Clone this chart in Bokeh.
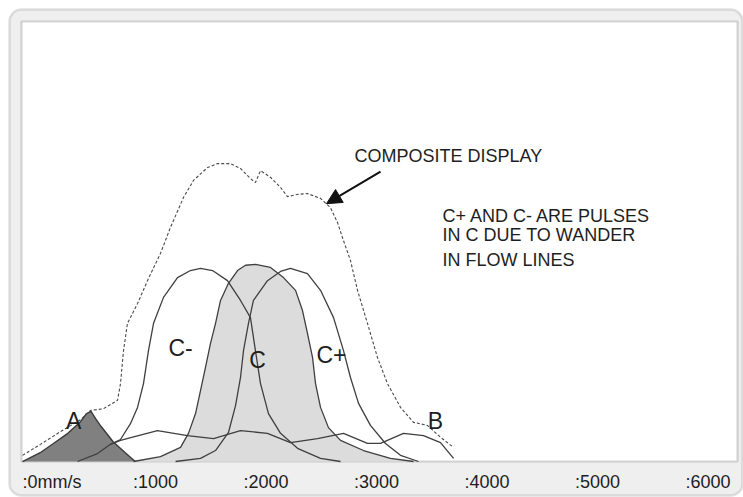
from bokeh.plotting import figure
from bokeh.models import Range1d, BoxAnnotation, Arrow, NormalHead
from bokeh.core.properties import value
from bokeh.embed import file_html
from bokeh.resources import INLINE

# ---------------- data (velocity in mm/s, amplitude in arbitrary units) ----------------
tick_values = [0, 1000, 2000, 3000, 4000, 5000, 6000]
tick_labels = [":0mm/s", ":1000", ":2000", ":3000", ":4000", ":5000", ":6000"]

# pulse A (dark filled)
a_x = [0, 160, 280, 410, 520, 580, 620, 660, 710, 820, 930, 1020]
a_y = [0, 2.0, 4.1, 6.4, 8.9, 10.9, 11.4, 9.8, 8.0, 4.5, 2.0, 0]

# pulse C (light filled)
c_x = [1005, 1249, 1430, 1502, 1566, 1611, 1656, 1701, 1747, 1792, 1864, 1946, 2018, 2109,
       2244, 2362, 2471, 2534, 2579, 2625, 2652, 2697, 2769, 2878, 3086, 3330, 3539]
c_y = [0, 1.1, 3.2, 6.4, 10.9, 16.1, 21.4, 26.8, 31.4, 36.6, 40.5, 43.4, 44.6, 44.8,
       44.1, 41.8, 38.9, 34.3, 29.1, 23.6, 17.7, 12.3, 7.7, 4.8, 2.5, 0.7, 0]

# pulse C- (outline)
cm_x = [498, 679, 796, 887, 977, 1041, 1095, 1140, 1186, 1276, 1403, 1520, 1611, 1720,
        1855, 1973, 2063, 2108, 2154, 2226, 2335, 2489, 2697, 2878]
cm_y = [0, 1.8, 3.9, 5.0, 8.6, 12.3, 17.7, 25.2, 31.4, 37.3, 41.8, 43.4, 43.9, 43.4,
        41.1, 36.6, 32.7, 25.2, 17.7, 10.9, 6.4, 3.0, 0.7, 0]

# pulse C+ (outline)
cp_x = [1385, 1611, 1747, 1864, 1928, 1973, 2000, 2045, 2090, 2217, 2335, 2425, 2579,
        2697, 2815, 2905, 2968, 3041, 3149, 3285, 3421, 3584]
cp_y = [0, 0.7, 2.5, 6.6, 12.7, 19.1, 25.2, 31.4, 36.6, 41.1, 43.2, 43.9, 42.7,
        38.9, 32.7, 25.2, 19.1, 13.2, 8.2, 4.1, 1.4, 0]

# low wandering signal with pulse B
b_x = [796, 887, 1023, 1222, 1493, 1729, 1973, 2217, 2425, 2670, 2905, 3122, 3240,
       3448, 3629, 3783, 3901]
b_y = [3.9, 4.8, 5.7, 7.0, 5.9, 5.2, 7.0, 6.4, 4.3, 5.2, 6.4, 4.1, 4.1,
       6.4, 5.9, 4.3, 0.7]

# composite display (dashed)
comp_x = [0, 163, 344, 525, 615, 733, 860, 887, 914, 950, 1041, 1131, 1249, 1339, 1457,
          1548, 1674, 1765, 1882, 1973, 2063, 2108, 2154, 2244, 2335, 2398, 2489, 2579,
          2697, 2787, 2851, 2905, 2968, 3032, 3122, 3213, 3303, 3421, 3539, 3665, 3783, 3901]
comp_y = [1.4, 3.9, 6.8, 9.5, 11.6, 12.0, 13.9, 17.7, 25.2, 31.4, 35.9, 41.1, 47.3, 53.2,
          60.0, 63.9, 66.8, 67.7, 67.7, 66.6, 64.3, 63.4, 66.1, 64.6, 62.3, 60.2, 60.7, 60.9,
          59.8, 57.7, 54.3, 50.2, 45.7, 38.9, 31.4, 23.6, 17.7, 12.3, 8.9, 8.2, 5.5, 3.2]

peak_names = ["A", "C-", "C", "C+", "B"]
note_lines = ["C+ AND C- ARE PULSES", "IN C DUE TO WANDER", "IN FLOW LINES"]
arrow_title = "COMPOSITE DISPLAY"

# ---------------- layout positions (data units) ----------------
peak_lx = [462, 1430, 2127, 2796, 3738]
peak_ly = [9.3, 25.7, 23.0, 24.3, 9.1]
note_lx = [3801, 3801, 3801]
note_ly = [55.7, 51.4, 45.9]
tick_ly = [-4.6] * len(tick_values)

FONT = value("Liberation Sans")
LINE = "#3f3f3f"
TEXT = "#1e1e1e"

p = figure(width=743, height=497,
           x_range=Range1d(-199.1, 6525), y_range=Range1d(-8.18, 104.77),
           x_axis_type=None, y_axis_type=None,
           output_backend="svg", toolbar_location=None,
           min_border=0, min_border_left=0, min_border_right=0,
           min_border_top=0, min_border_bottom=0)
p.grid.visible = False
p.outline_line_color = None
p.background_fill_color = "white"
p.border_fill_color = "white"

outer = BoxAnnotation(left=-117.6, right=6516, bottom=-7.7, top=102.7,
                      fill_color="#efefef", fill_alpha=1.0,
                      line_color="#9a9a9a", line_width=2.5, border_radius=12,
                      level="underlay")
inner = BoxAnnotation(left=-9, right=6471, bottom=0, top=100,
                      fill_color="white", fill_alpha=1.0,
                      line_color="#7a7a7a", line_width=2.2,
                      level="underlay")
p.add_layout(outer)
p.add_layout(inner)

# fills
p.varea(x=c_x, y1=[0] * len(c_x), y2=c_y, fill_color="#dcdcdc")
p.varea(x=a_x, y1=[0] * len(a_x), y2=a_y, fill_color="#808080")

# outlines
p.line(a_x, a_y, line_color="#3a3a3a", line_width=1.4)
p.line(c_x, c_y, line_color=LINE, line_width=1.3)
p.line(cm_x, cm_y, line_color=LINE, line_width=1.3)
p.line(cp_x, cp_y, line_color=LINE, line_width=1.3)
p.line(b_x, b_y, line_color=LINE, line_width=1.3)
p.line(comp_x, comp_y, line_color="#4a4a4a", line_width=1.1, line_dash="3 2")

# arrow to composite curve
p.add_layout(Arrow(end=NormalHead(size=15, fill_color="#111111", line_color="#111111"),
                   x_start=3240, y_start=65.9, x_end=2751, y_end=58.6,
                   line_color="#111111", line_width=2))

# texts
p.text(x=[3005], y=[69.5], text=[arrow_title], text_font=FONT, text_font_size="18px",
       text_align="left", text_baseline="middle", text_color=TEXT)
p.text(x=note_lx, y=note_ly, text=note_lines, text_font=FONT, text_font_size="18px",
       text_align="left", text_baseline="middle", text_color=TEXT)
p.text(x=peak_lx, y=peak_ly, text=peak_names, text_font=FONT, text_font_size="23px",
       text_align="center", text_baseline="middle", text_color=TEXT)
p.text(x=tick_values, y=tick_ly, text=tick_labels, text_font=FONT, text_font_size="18px",
       text_align="left", text_baseline="middle", text_color=TEXT)

open("out.html", "w").write(file_html(p, INLINE))
